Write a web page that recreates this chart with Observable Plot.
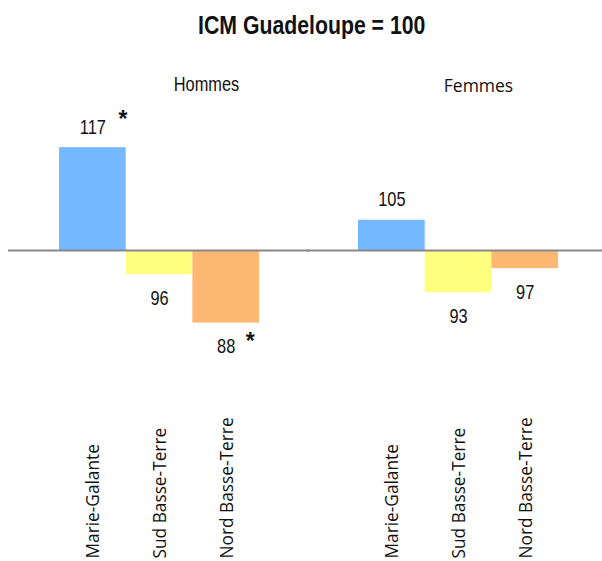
<!DOCTYPE html>
<html>
<head>
<meta charset="utf-8">
<script src="https://cdn.jsdelivr.net/npm/d3@7"></script>
<script src="https://cdn.jsdelivr.net/npm/@observablehq/plot@0.6"></script>
<style>
  body { margin: 0; background: #fff; overflow: hidden; }
  #title { width: 602px; height: 50px; box-sizing: border-box; padding-top: 11px; padding-left: 22px;
    text-align: center; font-family: "Liberation Sans", Arial, sans-serif; font-weight: bold;
    font-size: 25px; color: #111; }
  #title span { display: inline-block; transform: scaleX(0.85); }
</style>
</head>
<body>
<div id="title"><span>ICM Guadeloupe = 100</span></div>
<div id="chart"></div>
<script>
const sexes = ["Hommes", "Femmes"];
const regions = ["Marie-Galante", "Sud Basse-Terre", "Nord Basse-Terre"];
const hommesValues = [117, 96, 88];
const femmesValues = [105, 93, 97];
const hommesSignif = [true, false, true];
const femmesSignif = [false, false, false];
const colors = ["#74B9FF", "#FFFF80", "#FFB871"];
const reference = 100;

const rows = [];
regions.forEach((r, i) => rows.push({sex: "Hommes", region: r, value: hommesValues[i], signif: hommesSignif[i]}));
regions.forEach((r, i) => rows.push({sex: "Femmes", region: r, value: femmesValues[i], signif: femmesSignif[i]}));

const pos = rows.filter(d => d.value >= reference);
const neg = rows.filter(d => d.value < reference);
const narrow = "Liberation Sans, Arial, sans-serif";
const starFont = "Arial, Liberation Sans, sans-serif";
const labelFont = "Open Sans, sans-serif";

const chart = Plot.plot({
  width: 602,
  height: 511,
  marginLeft: 8,
  marginRight: 0,
  marginTop: 48.75,
  marginBottom: 190,
  fx: {domain: sexes, paddingInner: 0.331, paddingOuter: 0.1589, align: 0.537, round: false, axis: null, label: null},
  x: {domain: regions, padding: 0, round: false, axis: null},
  y: {domain: [80, 125], axis: null},
  color: {domain: regions, range: colors},
  style: {background: "white", overflow: "visible"},
  marks: [
    Plot.barY(rows, {fx: "sex", x: "region", y1: reference, y2: "value", fill: "region"}),
    Plot.ruleY(rows.filter(d => d.region === regions[0]), {fx: "sex", y: () => reference, stroke: "#888", strokeWidth: 2, insetLeft: -51, insetRight: -50}),
    Plot.text(pos, {fx: "sex", x: "region", y: "value", text: d => String(d.value), lineAnchor: "bottom", dy: -14, fontFamily: narrow, fontSize: 20, fill: "#111"}),
    Plot.text(neg, {fx: "sex", x: "region", y: "value", text: d => String(d.value), lineAnchor: "bottom", dy: 30, fontFamily: narrow, fontSize: 20, fill: "#111"}),
    Plot.text(pos.filter(d => d.signif), {fx: "sex", x: "region", y: "value", text: () => "*", lineAnchor: "bottom", dy: -21, dx: 30, fontFamily: starFont, fontWeight: "bold", fontSize: 23, fill: "#111"}),
    Plot.text(neg.filter(d => d.signif), {fx: "sex", x: "region", y: "value", text: () => "*", lineAnchor: "bottom", dy: 26, dx: 24, fontFamily: starFont, fontWeight: "bold", fontSize: 23, fill: "#111"}),
    Plot.text(["Hommes"], {fx: d => d, text: d => d, frameAnchor: "top", lineAnchor: "bottom", dy: -8, dx: 47, fontFamily: narrow, fontSize: 20, fill: "#111"}),
    Plot.text(["Femmes"], {fx: d => d, text: d => d, frameAnchor: "top", lineAnchor: "bottom", dy: -7, dx: 20, fontFamily: labelFont, fontSize: 17.5, fill: "#111"}),
    Plot.text(rows, {fx: "sex", x: "region", text: "region", frameAnchor: "bottom", rotate: -90, textAnchor: "start", lineAnchor: "middle", dy: 187, dx: 1, fontFamily: labelFont, fontSize: 17.3, fill: "#111"})
  ]
});

// condense the Arial-Narrow-like texts horizontally
d3.select(chart).selectAll("g").filter(function() { return this.getAttribute("font-family") === narrow; })
  .selectAll("text").each(function() {
    const t = this.getAttribute("transform") || "";
    const x = +(this.getAttribute("x") || 0), y = +(this.getAttribute("y") || 0);
    this.removeAttribute("x"); this.removeAttribute("y");
    this.setAttribute("transform", `${t} translate(${x},${y}) scale(0.82,1)`);
  });

document.getElementById("chart").appendChild(chart);
</script>
</body>
</html>
